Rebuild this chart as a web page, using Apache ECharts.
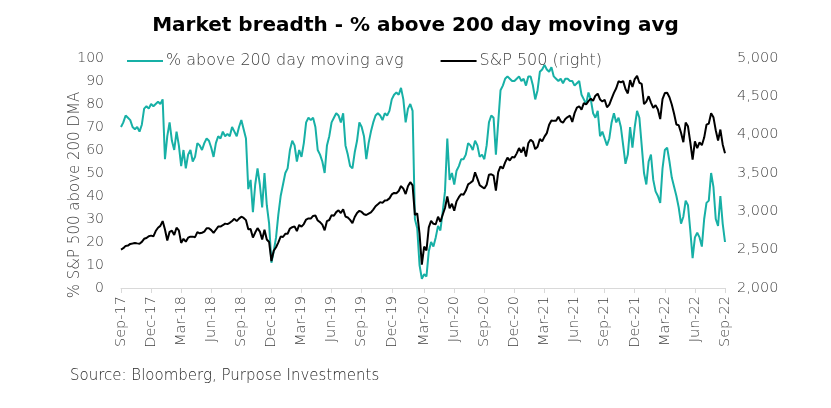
<!DOCTYPE html>
<html><head><meta charset="utf-8">
<script src="https://cdn.jsdelivr.net/npm/echarts@6/dist/echarts.min.js"></script>
<style>html,body{margin:0;padding:0;background:#fff}#c{width:831px;height:408px}</style>
</head><body><div id="c"></div>
<script>
// Weekly observations, Fri 22-Sep-2017 .. Thu 22-Sep-2022
const startDate = '2017-09-22';
const tickLabels = ['Sep-17','Dec-17','Mar-18','Jun-18','Sep-18','Dec-18','Mar-19','Jun-19','Sep-19','Dec-19','Mar-20','Jun-20','Sep-20','Dec-20','Mar-21','Jun-21','Sep-21','Dec-21','Mar-22','Jun-22','Sep-22'];
const pctAbove200 = [
70,72,75,74,73,70,69,70,68,71,78,79,78,80,79,80,81,80,82,56,
66,72,64,60,68,62,53,60,52,58,60,55,57,63,62,60,63,65,64,61,
57,63,66,65,68,66,67,66,70,68,66,70,73,69,65,43,47,33,45,52,
45,35,50,36,28,11,16,22,32,40,45,50,52,60,64,62,55,60,57,63,
72,74,73,74,70,60,58,55,50,62,66,72,74,76,75,72,76,62,58,53,
52,59,64,72,70,66,56,63,68,72,75,76,75,73,76,75,77,82,84,85,
84,87,82,72,78,80,77,30,26,10,4,6,5,16,20,18,22,27,25,33,
42,65,47,50,45,51,53,56,56,58,63,62,60,64,62,57,58,56,62,72,
75,74,58,72,86,88,91,92,91,90,90,91,92,90,91,88,92,92,88,82,
86,94,95,97,95,94,96,92,91,90,91,89,91,91,90,90,88,89,90,84,
82,80,85,82,76,74,77,66,68,65,62,65,72,76,72,74,70,62,54,58,
70,61,70,77,74,62,50,45,55,58,47,42,40,37,52,60,61,55,48,44,
40,35,28,31,38,36,25,13,22,24,22,18,30,37,38,50,44,30,27,40,
28,20];
const sp500 = [
2502,2519,2549,2553,2575,2581,2588,2582,2578,2602,2642,2652,2676,2683,2674,2743,2786,2810,2873,2762,
2620,2732,2747,2691,2786,2752,2588,2641,2604,2656,2670,2670,2663,2728,2713,2721,2735,2779,2780,2755,
2718,2760,2801,2802,2819,2840,2833,2850,2875,2902,2872,2905,2930,2914,2885,2767,2768,2659,2723,2781,
2736,2633,2760,2633,2600,2351,2486,2532,2596,2671,2665,2707,2708,2776,2793,2804,2743,2822,2800,2834,
2893,2907,2905,2940,2946,2881,2860,2826,2752,2873,2887,2950,2942,2990,3014,2977,3026,2932,2919,2889,
2847,2926,2979,3007,2992,2962,2952,2970,2986,3023,3067,3093,3120,3110,3141,3146,3169,3221,3240,3235,
3265,3330,3295,3226,3328,3380,3338,2954,2972,2711,2305,2541,2489,2790,2875,2837,2831,2930,2864,2955,
3044,3194,3041,3098,3009,3130,3185,3225,3216,3271,3351,3373,3397,3508,3427,3341,3319,3298,3348,3477,
3484,3465,3270,3510,3585,3558,3638,3699,3663,3709,3703,3756,3825,3768,3841,3714,3887,3934,3907,3811,
3842,3943,3913,3975,4020,4129,4185,4180,4181,4233,4174,4156,4204,4230,4247,4166,4281,4352,4370,4327,
4412,4395,4437,4468,4442,4509,4535,4459,4433,4455,4357,4391,4471,4545,4605,4697,4683,4698,4595,4538,
4712,4621,4725,4766,4677,4663,4398,4432,4501,4419,4349,4385,4329,4204,4463,4543,4546,4488,4393,4272,
4132,4123,4024,3901,4158,4109,3901,3675,3912,3825,3899,3863,3962,4130,4145,4280,4228,4058,3924,4067,
3873,3757];

const n = sp500.length;
const cats = [];
const d0 = new Date(startDate + 'T00:00:00Z');
for (let i = 0; i < n; i++) {
  const d = new Date(d0.getTime() + i * 7 * 86400000);
  cats.push(d.toISOString().slice(0, 10));
}
const tickIdx = {};
tickLabels.forEach((t, k) => { tickIdx[Math.round(k * (n - 1) / (tickLabels.length - 1))] = t; });

const FONT = 'DejaVu Sans';
const TEAL = '#17b0a6';
const GREY = '#3f3f3f';
const chart = echarts.init(document.getElementById('c'), null, {renderer: 'canvas'});
chart.setOption({
  animation: false,
  textStyle: {fontFamily: FONT},
  title: {
    text: 'Market breadth - % above 200 day moving avg',
    left: 'center', top: 11,
    textStyle: {fontFamily: FONT, fontSize: 20, fontWeight: 'bold', color: '#000'}
  },
  legend: {
    top: 53, left: 127, padding: 0, itemGap: 37, itemWidth: 36, itemHeight: 2,
    icon: 'rect',
    textStyle: {fontFamily: FONT, fontSize: 16, fontWeight: 300, color: GREY, padding: [0, 0, 0, -2]},
    data: ['% above 200 day moving avg', 'S&P 500 (right)']
  },
  grid: {left: 121, right: 106, top: 58, bottom: 120},
  xAxis: {
    type: 'category', data: cats, boundaryGap: false,
    axisLine: {lineStyle: {color: '#d9d9d9', width: 1}},
    axisTick: {show: true, length: 5, lineStyle: {color: '#d9d9d9'}, interval: (i) => tickIdx[i] !== undefined},
    axisLabel: {
      interval: (i) => tickIdx[i] !== undefined,
      formatter: (v, i) => tickIdx[i] || '',
      rotate: 90, color: GREY, fontSize: 14.5, fontWeight: 300, fontFamily: FONT, margin: 8
    },
    splitLine: {show: false}
  },
  yAxis: [
    {
      type: 'value', min: 0, max: 100, interval: 10,
      axisLine: {show: false}, axisTick: {show: false}, splitLine: {show: false},
      axisLabel: {color: GREY, fontSize: 14, fontWeight: 300, fontFamily: FONT, margin: 17}
    },
    {
      type: 'value', min: 2000, max: 5000, interval: 500, position: 'right',
      axisLine: {show: false}, axisTick: {show: false}, splitLine: {show: false},
      axisLabel: {color: GREY, fontSize: 14.5, fontWeight: 300, fontFamily: FONT, margin: 12,
        formatter: (v) => v.toLocaleString('en-US')}
    }
  ],
  series: [
    {name: '% above 200 day moving avg', type: 'line', yAxisIndex: 0, data: pctAbove200,
     showSymbol: false, symbol: 'none', lineStyle: {color: TEAL, width: 2}, itemStyle: {color: TEAL}},
    {name: 'S&P 500 (right)', type: 'line', yAxisIndex: 1, data: sp500,
     showSymbol: false, symbol: 'none', lineStyle: {color: '#000', width: 2}, itemStyle: {color: '#000'}}
  ],
  graphic: [
    {
      type: 'text', x: 75, y: 195, rotation: Math.PI / 2,
      style: {text: '% S&P 500 above 200 DMA', fill: GREY, fontSize: 15, fontWeight: 300, fontFamily: FONT,
        align: 'center', verticalAlign: 'middle'}
    },
    {
      type: 'text', left: 70, top: 369,
      style: {text: 'Source: Bloomberg, Purpose Investments', fill: '#262626', fontSize: 15, fontWeight: 300, fontFamily: FONT}
    }
  ]
});
</script></body></html>
